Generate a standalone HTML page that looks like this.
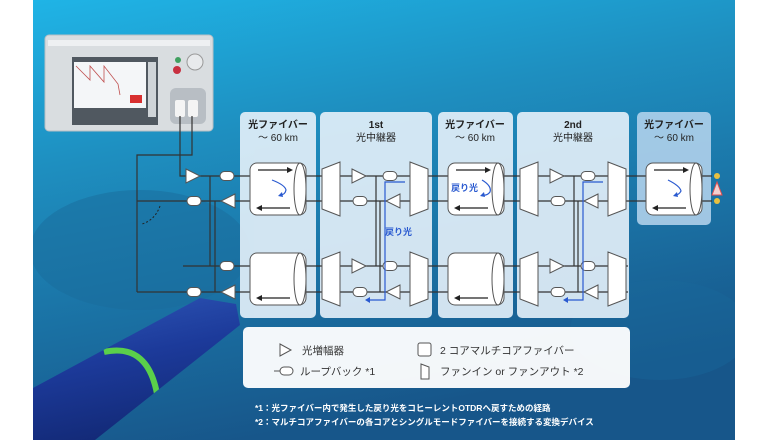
<!DOCTYPE html>
<html><head><meta charset="utf-8"><style>
html,body{margin:0;padding:0;background:#fff;width:770px;height:440px;overflow:hidden}
svg{display:block}
text{font-family:"Liberation Sans","Noto Sans CJK JP",sans-serif}
</style></head><body>
<svg width="770" height="440" viewBox="0 0 770 440" xmlns="http://www.w3.org/2000/svg">
<defs>
<clipPath id="clip"><rect x="33" y="0" width="702" height="440"/></clipPath>
<clipPath id="pclip"><polygon points="33,388 200,298 236,304 240,325 95,440 33,440"/></clipPath>
<linearGradient id="bg" x1="0" y1="0" x2="0.3" y2="1">
<stop offset="0" stop-color="#1fb4e6"/><stop offset="0.35" stop-color="#1e8fc0"/><stop offset="1" stop-color="#17568a"/>
</linearGradient>
<linearGradient id="pipe" x1="0" y1="0" x2="0.3" y2="1">
<stop offset="0" stop-color="#2f58b8"/><stop offset="0.5" stop-color="#1c3a9a"/><stop offset="1" stop-color="#132a78"/>
</linearGradient>
<g id="ampR"><polygon points="0,-7 14,0 0,7" fill="#fff" stroke="#555" stroke-width="1"/></g>
<g id="ampL"><polygon points="14,-7 0,0 14,7" fill="#fff" stroke="#555" stroke-width="1"/></g>
<g id="ov"><rect x="-7" y="-4.5" width="14" height="9" rx="4.5" fill="#fff" stroke="#555" stroke-width="1"/></g>
<g id="fanL"><polygon points="0,7 18,0 18,54 0,47" fill="#fff" stroke="#555" stroke-width="1"/></g>
<g id="fanR"><polygon points="0,0 18,7 18,47 0,54" fill="#fff" stroke="#555" stroke-width="1"/></g>
<g id="cyl">
<rect x="0" y="0" width="56" height="52" rx="7" fill="#fff" stroke="#555" stroke-width="1"/>
<ellipse cx="50" cy="26" rx="6" ry="26" fill="#fff" stroke="#555" stroke-width="1"/>
</g>
</defs>
<g clip-path="url(#clip)">
<rect x="33" y="0" width="702" height="440" fill="url(#bg)"/>
<ellipse cx="140" cy="250" rx="110" ry="60" fill="#1a6c9c" opacity="0.5"/>
<ellipse cx="660" cy="330" rx="90" ry="50" fill="#1a6a9a" opacity="0.4"/>
<polygon points="33,388 200,298 236,304 240,325 95,440 33,440" fill="url(#pipe)"/>
<g clip-path="url(#pclip)">
<path d="M104,352 Q150,342 158,400" stroke="#5ad04a" stroke-width="6" fill="none"/>
</g>
</g>

<!-- instrument -->
<rect x="45" y="35" width="168" height="96" rx="4" fill="#d9dde0" stroke="#b8bfc4"/>
<rect x="48" y="40" width="162" height="6" fill="#eef0f2"/>
<rect x="72" y="57" width="86" height="68" fill="#505860"/>
<rect x="74" y="62" width="72" height="46" fill="#f4f6f8"/>
<polyline points="76,66 90,80 90,66 104,82 104,66 118,84 120,95" fill="none" stroke="#c05050" stroke-width="0.8"/>
<rect x="130" y="95" width="12" height="8" fill="#d83030"/>
<rect x="148" y="62" width="8" height="55" fill="#cfd4d8"/>
<circle cx="195" cy="62" r="8" fill="#e8eaec" stroke="#999"/>
<circle cx="177" cy="70" r="4" fill="#c83040"/>
<circle cx="178" cy="60" r="3" fill="#40a060"/>
<rect x="170" y="88" width="36" height="36" rx="6" fill="#b8bec4"/>
<rect x="175" y="100" width="10" height="17" rx="2" fill="#f4f4f4"/>
<rect x="188" y="100" width="10" height="17" rx="2" fill="#f4f4f4"/>

<!-- panels -->
<g fill="#e6f1fa" opacity="0.9">
<rect x="240" y="112" width="76" height="206" rx="5"/>
<rect x="320" y="112" width="112" height="206" rx="5"/>
<rect x="438" y="112" width="75" height="206" rx="5"/>
<rect x="517" y="112" width="112" height="206" rx="5"/>
</g>
<rect x="637" y="112" width="74" height="113" rx="5" fill="#b8d6ee" opacity="0.85"/>

<g font-size="10" fill="#222" text-anchor="middle">
<text x="278" y="128" font-weight="bold">光ファイバー</text><text x="278" y="141">～ 60 km</text>
<text x="376" y="128" font-weight="bold">1st</text><text x="376" y="141">光中継器</text>
<text x="475" y="128" font-weight="bold">光ファイバー</text><text x="475" y="141">～ 60 km</text>
<text x="573" y="128" font-weight="bold">2nd</text><text x="573" y="141">光中継器</text>
<text x="674" y="128" font-weight="bold">光ファイバー</text><text x="674" y="141">～ 60 km</text>
</g>

<!-- wiring -->
<g stroke="#333" stroke-width="1.2" fill="none">
<polyline points="180,116 180,176 712,176"/>
<polyline points="192,116 192,155 137,155 137,292"/>
<line x1="137" y1="201" x2="712" y2="201"/>
<line x1="183" y1="266" x2="628" y2="266"/>
<line x1="137" y1="292" x2="628" y2="292"/>
<line x1="210" y1="176" x2="210" y2="266"/>
<line x1="215" y1="201" x2="215" y2="292"/>
<line x1="376" y1="176" x2="376" y2="266"/>
<line x1="380" y1="201" x2="380" y2="292"/>
<line x1="574" y1="176" x2="574" y2="266"/>
<line x1="578" y1="201" x2="578" y2="292"/>
</g>
<path d="M160,206 Q155,220 142,224" stroke="#222" stroke-dasharray="2,2" fill="none"/>

<!-- left block -->
<use href="#ampR" x="186" y="176"/><use href="#ov" x="227" y="176"/>
<use href="#ov" x="194" y="201"/><use href="#ampL" x="221" y="201"/>
<use href="#ov" x="227" y="266"/>
<use href="#ov" x="194" y="292"/><use href="#ampL" x="221" y="292"/>

<!-- fibers -->
<use href="#cyl" x="250" y="163"/><use href="#cyl" x="250" y="253"/>
<use href="#cyl" x="448" y="163"/><use href="#cyl" x="448" y="253"/>
<use href="#cyl" x="646" y="163"/>
<g stroke="#222" stroke-width="1.2">
<line x1="258" y1="170" x2="290" y2="170"/><line x1="258" y1="208" x2="290" y2="208"/>
<line x1="258" y1="298" x2="290" y2="298"/>
<line x1="456" y1="170" x2="488" y2="170"/><line x1="456" y1="208" x2="488" y2="208"/>
<line x1="456" y1="298" x2="488" y2="298"/>
<line x1="654" y1="170" x2="686" y2="170"/><line x1="654" y1="208" x2="686" y2="208"/>
</g>
<g fill="#222">
<polygon points="293,170 287,167 287,173"/><polygon points="256,208 262,205 262,211"/><polygon points="256,298 262,295 262,301"/>
<polygon points="491,170 485,167 485,173"/><polygon points="454,208 460,205 460,211"/><polygon points="454,298 460,295 460,301"/>
<polygon points="689,170 683,167 683,173"/><polygon points="652,208 658,205 658,211"/>
</g>
<g stroke="#2a5ad0" stroke-width="1.2" fill="none">
<path d="M272,180 Q285,185 286,190 Q285,195 280,195"/>
<path d="M482,180 Q492,186 490,192 Q487,196 482,195"/>
<path d="M668,180 Q680,186 681,191 Q679,195 675,195"/>
</g>
<g fill="#2a5ad0"><polygon points="278,196 282,192 283,197"/><polygon points="480,196 484,192 485,197"/><polygon points="673,196 677,192 678,197"/></g>
<text x="451" y="191" font-size="9" fill="#2a5ad0" font-weight="bold">戻り光</text>

<!-- repeaters -->
<g id="rep">
<use href="#fanL" x="322" y="162"/><use href="#fanR" x="410" y="162"/>
<use href="#fanL" x="322" y="252"/><use href="#fanR" x="410" y="252"/>
<use href="#ampR" x="352" y="176"/><use href="#ov" x="390" y="176"/>
<use href="#ov" x="360" y="201"/><use href="#ampL" x="386" y="201"/>
<use href="#ampR" x="352" y="266"/><use href="#ov" x="390" y="266"/>
<use href="#ov" x="360" y="292"/><use href="#ampL" x="386" y="292"/>
<polyline points="405,182 385,182 385,300 368,300" fill="none" stroke="#2a5ad0" stroke-width="1.2"/>
<polygon points="365,300 370,297 370,303" fill="#2a5ad0"/>
</g>
<use href="#rep" x="198" y="0"/>
<text x="385" y="235" font-size="9" fill="#2a5ad0" font-weight="bold">戻り光</text>

<!-- end markers -->
<circle cx="717" cy="176" r="3" fill="#e8c040"/><circle cx="717" cy="201" r="3" fill="#e8c040"/>
<polygon points="717,182 712,195 722,195" fill="#f4d0d0" stroke="#e05050"/>

<!-- legend -->
<rect x="243" y="327" width="387" height="61" rx="5" fill="#fff" opacity="0.95"/>
<g font-size="10.5" fill="#333">
<polygon points="280,344 291,350 280,356" fill="#fff" stroke="#555"/>
<text x="302" y="354">光増幅器</text>
<line x1="274" y1="371" x2="280" y2="371" stroke="#555"/>
<rect x="280" y="367" width="13" height="8" rx="4" fill="#fff" stroke="#555"/>
<text x="300" y="375">ループバック *1</text>
<rect x="418" y="343" width="13" height="13" rx="2" fill="#fff" stroke="#555"/>
<text x="440" y="354">2 コアマルチコアファイバー</text>
<polygon points="421,364 429,367 429,379 421,379" fill="#fff" stroke="#555"/>
<text x="440" y="375">ファンイン or ファンアウト *2</text>
</g>
<g font-size="8.5" fill="#fff" font-weight="bold">
<text x="255" y="411">*1：光ファイバー内で発生した戻り光をコヒーレントOTDRへ戻すための経路</text>
<text x="255" y="425">*2：マルチコアファイバーの各コアとシングルモードファイバーを接続する変換デバイス</text>
</g>
</svg>
</body></html>
